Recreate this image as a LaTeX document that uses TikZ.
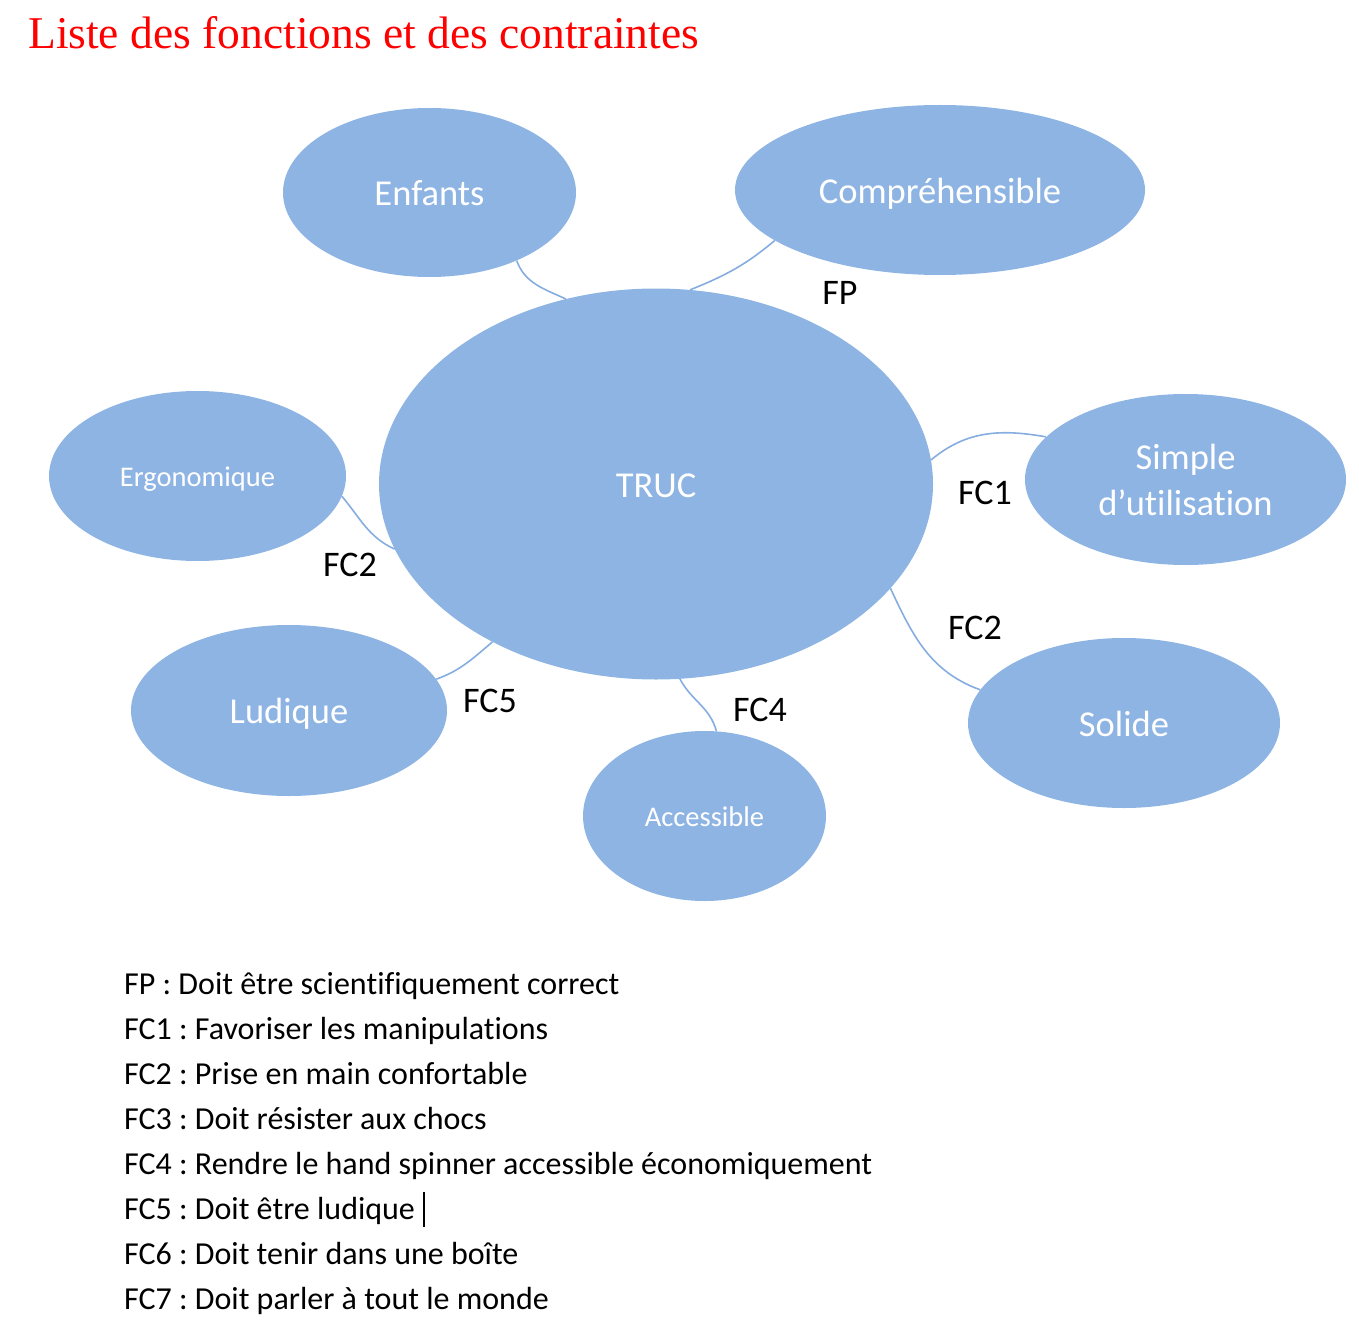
\documentclass[tikz,border=0pt]{standalone}
\usepackage{fontspec}
\setmainfont[Ligatures=NoCommon]{Carlito}
\newfontfamily\titlefont{Liberation Serif}
\usetikzlibrary{shapes.geometric,calc}
\definecolor{bubble}{HTML}{8EB4E3}
\definecolor{link}{HTML}{86ADDF}
\definecolor{titlered}{HTML}{FF0000}
\tikzset{
  bub/.style={ellipse, fill=bubble, draw=none, text=white, inner sep=0pt, align=center},
  big/.style={font=\fontsize{36.5}{46}\selectfont, text height=26.5pt, text depth=0pt},
  small/.style={font=\fontsize{28.5}{34}\selectfont, text height=20.5pt, text depth=0pt},
  twoline/.style={font=\fontsize{36.5}{46}\selectfont},
  conn/.style={draw=link, line width=1.6pt},
  lab/.style={text=black, inner sep=0pt, font=\fontsize{36}{40}\selectfont},
  legend/.style={anchor=base west, inner sep=0pt, text=black, font=\fontsize{32}{38}\selectfont},
}
\begin{document}
\frenchspacing
\begin{tikzpicture}[x=1pt,y=-1pt]
\useasboundingbox (0,0) rectangle (1359,1321);
\node[anchor=base west, inner sep=0pt, text=titlered, font=\titlefont\fontsize{45.5}{52}\selectfont] (title) at (28,49) {Liste des fonctions et des contraintes};

\node[bub, big, minimum width=293pt, minimum height=169pt] (enf) at (429.5,192.5) {Enfants};
\node[bub, big, minimum width=410pt, minimum height=170pt] (comp) at (940,190) {Compréhensible};
\node[bub, big, minimum width=554pt, minimum height=391pt] (truc) at (656,484) {TRUC};
\node[bub, small, minimum width=297pt, minimum height=170pt] (ergo) at (197.5,476) {Ergonomique};
\node[bub, twoline, minimum width=321pt, minimum height=171pt] (simp) at (1185.5,479.5) {Simple\\d’utilisation};
\node[bub, big, minimum width=316pt, minimum height=171pt] (lud) at (289,710.5) {Ludique};
\node[bub, small, minimum width=243pt, minimum height=170pt] (acc) at (704.5,816) {Accessible};
\node[bub, big, minimum width=312pt, minimum height=170pt] (sol) at (1124,723) {Solide};

\draw[conn] (enf.-38) to[out=-70, in=155] (truc.116);
\draw[conn] (comp.197) to[out=-140, in=22] (truc.80);
\draw[conn] (truc.5.6) to[out=40, in=170] (simp.163);
\draw[conn] (truc.-24.5) to[out=-65, in=160] (sol.167);
\draw[conn] (ergo.-8.4) to[out=-50, in=155] (truc.194.3);
\draw[conn] (truc.224.3) to[out=-140, in=20] (lud.12.7);
\draw[conn] (truc.-83) to[out=-62, in=105] (acc.82);

\node[lab] (lfp) at (840,293) {FP};
\node[lab] (lfc1) at (985,493) {FC1};
\node[lab] (lfc2r) at (975,628) {FC2};
\node[lab] (lfc2l) at (350,565) {FC2};
\node[lab] (lfc5) at (490,701) {FC5};
\node[lab] (lfc4) at (760,710) {FC4};

\node[legend] (l1) at (124,994) {FP : Doit être scientifiquement correct};
\node[legend] (l2) at (124,1039) {FC1 : Favoriser les manipulations};
\node[legend] (l3) at (124,1084) {FC2 : Prise en main confortable};
\node[legend] (l4) at (124,1129) {FC3 : Doit résister aux chocs};
\node[legend] (l5) at (124,1174) {FC4 : Rendre le hand spinner accessible économiquement};
\node[legend] (l6) at (124,1219) {FC5 : Doit être ludique};
\node[legend] (l7) at (124,1264) {FC6 : Doit tenir dans une boîte};
\node[legend] (l8) at (124,1309) {FC7 : Doit parler à tout le monde};
\coordinate (curtop) at ($(l6.base east)+(9,-27)$);
\coordinate (curbot) at ($(l6.base east)+(9,8)$);
\draw[black, line width=1.6pt] (curtop) -- (curbot);
\end{tikzpicture}
\end{document}
